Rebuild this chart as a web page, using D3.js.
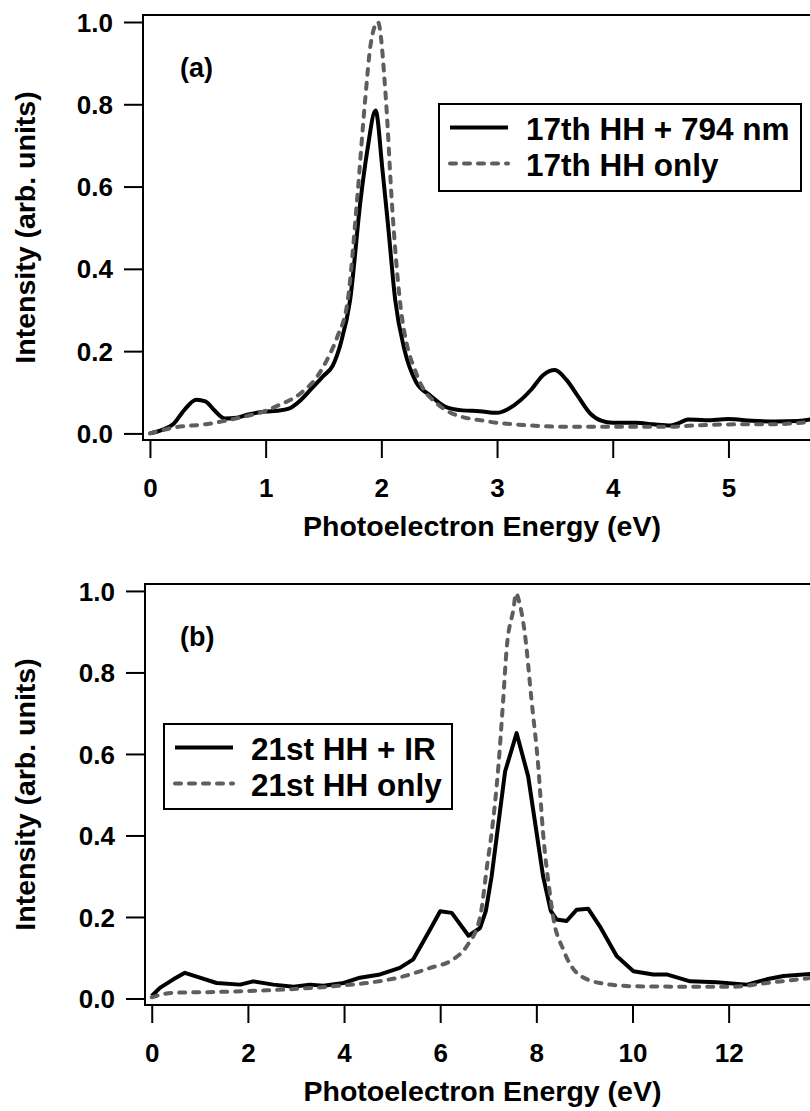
<!DOCTYPE html>
<html>
<head>
<meta charset="utf-8">
<script src="https://cdn.jsdelivr.net/npm/d3@7"></script>
<style>
  body { margin: 0; background: #fff; }
  svg { display: block; overflow: hidden; }
  text { font-family: "Liberation Sans", Arial, Helvetica, sans-serif; font-weight: bold; fill: #000; }
</style>
</head>
<body>
<svg id="chart"></svg>
<script>
// ---- data ----

// panel (a): 17th harmonic with and without the 794 nm dressing field
const a_ir_energy = [0.00, 0.10, 0.20, 0.30, 0.40, 0.48, 0.55, 0.65, 0.75, 0.85, 1.00, 1.10, 1.20, 1.30, 1.40, 1.50, 1.58, 1.65, 1.73, 1.82, 1.88, 1.95, 2.01, 2.06, 2.12, 2.20, 2.30, 2.42, 2.55, 2.70, 2.85, 3.00, 3.10, 3.20, 3.30, 3.40, 3.50, 3.60, 3.70, 3.80, 3.90, 4.00, 4.20, 4.35, 4.50, 4.58, 4.65, 4.80, 5.00, 5.20, 5.40, 5.60, 5.80];
const a_ir_intensity = [0.000, 0.008, 0.022, 0.058, 0.082, 0.078, 0.058, 0.036, 0.038, 0.046, 0.053, 0.055, 0.060, 0.080, 0.110, 0.140, 0.165, 0.220, 0.324, 0.566, 0.690, 0.785, 0.640, 0.500, 0.324, 0.203, 0.125, 0.093, 0.065, 0.056, 0.054, 0.050, 0.060, 0.080, 0.108, 0.142, 0.154, 0.130, 0.090, 0.050, 0.031, 0.026, 0.026, 0.022, 0.019, 0.026, 0.034, 0.032, 0.035, 0.031, 0.029, 0.030, 0.039];

const a_only_energy = [0.00, 0.20, 0.50, 0.80, 1.00, 1.10, 1.30, 1.45, 1.55, 1.62, 1.71, 1.79, 1.86, 1.91, 1.97, 2.04, 2.09, 2.16, 2.23, 2.28, 2.35, 2.48, 2.60, 2.90, 3.25, 3.60, 4.00, 4.45, 4.75, 5.05, 5.35, 5.80];
const a_only_intensity = [0.000, 0.014, 0.023, 0.040, 0.055, 0.067, 0.097, 0.140, 0.190, 0.235, 0.324, 0.566, 0.810, 0.950, 1.000, 0.810, 0.566, 0.324, 0.205, 0.162, 0.115, 0.073, 0.050, 0.030, 0.020, 0.016, 0.016, 0.016, 0.020, 0.022, 0.022, 0.031];

// panel (b): 21st harmonic with and without IR
const b_ir_energy = [0.00, 0.17, 0.45, 0.69, 1.00, 1.35, 1.84, 2.11, 2.53, 2.95, 3.29, 3.57, 3.99, 4.33, 4.75, 5.16, 5.44, 5.79, 6.00, 6.24, 6.59, 6.83, 6.95, 7.07, 7.35, 7.59, 7.83, 8.14, 8.30, 8.42, 8.63, 8.84, 9.08, 9.32, 9.67, 10.02, 10.43, 10.71, 11.20, 11.75, 12.38, 12.79, 13.14, 13.90];
const b_ir_intensity = [0.006, 0.026, 0.047, 0.063, 0.051, 0.038, 0.034, 0.042, 0.034, 0.029, 0.034, 0.031, 0.038, 0.051, 0.059, 0.075, 0.096, 0.169, 0.214, 0.210, 0.154, 0.173, 0.215, 0.300, 0.557, 0.651, 0.545, 0.300, 0.215, 0.194, 0.190, 0.218, 0.220, 0.177, 0.104, 0.067, 0.059, 0.059, 0.042, 0.040, 0.034, 0.047, 0.055, 0.062];

const b_only_energy = [0.00, 0.45, 1.35, 2.39, 3.08, 3.78, 4.47, 5.16, 5.79, 6.27, 6.55, 6.83, 6.98, 7.07, 7.21, 7.31, 7.38, 7.52, 7.58, 7.64, 7.76, 7.90, 8.04, 8.14, 8.28, 8.35, 8.56, 8.84, 9.32, 10.02, 11.06, 12.10, 12.79, 13.90];
const b_only_intensity = [0.003, 0.014, 0.016, 0.020, 0.024, 0.030, 0.038, 0.052, 0.075, 0.096, 0.128, 0.200, 0.330, 0.406, 0.569, 0.732, 0.855, 0.953, 0.994, 0.975, 0.896, 0.732, 0.569, 0.406, 0.259, 0.200, 0.120, 0.063, 0.038, 0.030, 0.029, 0.029, 0.038, 0.053];

const y_ticks = [0, 0.2, 0.4, 0.6, 0.8, 1.0];
const a_x_ticks = [0, 1, 2, 3, 4, 5];
const b_x_ticks = [0, 2, 4, 6, 8, 10, 12];

const a_legend = ["17th HH + 794 nm", "17th HH only"];
const b_legend = ["21st HH + IR", "21st HH only"];

const x_title = "Photoelectron Energy (eV)";
const y_title = "Intensity (arb. units)";

// ---- page setup ----
const w = 810;
const h = 1111;
const GREY = "#5e5e5e";

const $svg = d3.select('#chart')
  .attr('width', w)
  .attr('height', h);

// zips two arrays into {x, y} points
const pairs = (xs, ys) => xs.map((x, i) => ({ x: x, y: ys[i] }));

// draws one panel: frame, axes, the two traces, label and legend
const drawPanel = function(cfg, idx) {

  const x = d3.scaleLinear().domain(cfg.xDomain).range([cfg.left, cfg.right]);
  const y = d3.scaleLinear().domain([-0.016, 1.017]).range([cfg.bottom, cfg.top]);

  const g = $svg.append('g');

  // clip the traces to the plot area
  const clipId = 'clip' + idx;
  g.append('clipPath').attr('id', clipId)
    .append('rect')
    .attr('x', cfg.left).attr('y', cfg.top)
    .attr('width', cfg.right - cfg.left).attr('height', cfg.bottom - cfg.top);

  const lineFor = curve => d3.line()
    .x(d => x(d.x))
    .y(d => y(d.y))
    .curve(curve);

  const traces = g.append('g').attr('clip-path', `url(#${clipId})`);

  traces.append('path')
    .datum(pairs(cfg.irE, cfg.irI))
    .attr('d', lineFor(cfg.irCurve))
    .attr('fill', 'none')
    .attr('stroke', '#000')
    .attr('stroke-width', 4)
    .attr('stroke-linejoin', 'round');

  traces.append('path')
    .datum(pairs(cfg.onlyE, cfg.onlyI))
    .attr('d', lineFor(d3.curveMonotoneX))
    .attr('fill', 'none')
    .attr('stroke', GREY)
    .attr('stroke-width', 4)
    .attr('stroke-linecap', 'round')
    .attr('stroke-dasharray', '6,8');

  // x axis, ticks hang below the frame
  const xAxis = g.append('g')
    .attr('transform', `translate(0,${cfg.bottom})`)
    .call(d3.axisBottom(x).tickValues(cfg.xTicks).tickSize(18).tickFormat(d3.format('d')));
  xAxis.select('.domain').remove();
  xAxis.selectAll('.tick line').attr('stroke-width', 2);
  xAxis.selectAll('.tick text')
    .attr('y', 57).attr('dy', 0)
    .style('font-size', '26px');

  // y axis
  const yAxis = g.append('g')
    .attr('transform', `translate(${cfg.left},0)`)
    .call(d3.axisLeft(y).tickValues(y_ticks).tickSize(19).tickFormat(d3.format('.1f')));
  yAxis.select('.domain').remove();
  yAxis.selectAll('.tick line').attr('stroke-width', 2);
  yAxis.selectAll('.tick text')
    .attr('x', -30).attr('dy', '0.35em')
    .style('font-size', '26px');

  // frame (the right edge falls outside the picture)
  g.append('rect')
    .attr('x', cfg.left).attr('y', cfg.top)
    .attr('width', cfg.right - cfg.left).attr('height', cfg.bottom - cfg.top)
    .attr('fill', 'none')
    .attr('stroke', '#000')
    .attr('stroke-width', 2);

  // titles
  g.append('text')
    .attr('x', (cfg.left + cfg.right) / 2)
    .attr('y', cfg.bottom + 96)
    .attr('text-anchor', 'middle')
    .style('font-size', '28.5px')
    .text(x_title);

  g.append('text')
    .attr('transform', `translate(35,${(cfg.top + cfg.bottom) / 2}) rotate(-90)`)
    .attr('text-anchor', 'middle')
    .style('font-size', '28.5px')
    .text(y_title);

  g.append('text')
    .attr('x', 180)
    .attr('y', cfg.top + 62)
    .style('font-size', '27px')
    .text(cfg.label);

  // legend box
  const L = cfg.legend;
  const lg = g.append('g');
  lg.append('rect')
    .attr('x', L.x).attr('y', L.y)
    .attr('width', L.w).attr('height', L.h)
    .attr('fill', '#fff')
    .attr('stroke', '#000')
    .attr('stroke-width', 2);

  const rows = [
    { text: cfg.names[0], color: '#000', dash: null },
    { text: cfg.names[1], color: GREY, dash: '6,8' }
  ];
  rows.forEach(function(r, i) {
    const ry = L.y + 23.5 + i * 36;
    lg.append('line')
      .attr('x1', L.x + 11).attr('x2', L.x + 69)
      .attr('y1', ry).attr('y2', ry)
      .attr('stroke', r.color)
      .attr('stroke-width', 4)
      .attr('stroke-linecap', r.dash ? 'round' : 'butt')
      .attr('stroke-dasharray', r.dash);
    lg.append('text')
      .attr('x', L.x + 87)
      .attr('y', ry + 12)
      .style('font-size', '31.5px')
      .text(r.text);
  });
}

drawPanel({
  left: 143, right: 821, top: 15, bottom: 440,
  xDomain: [-0.06, 5.8], xTicks: a_x_ticks,
  irE: a_ir_energy, irI: a_ir_intensity, irCurve: d3.curveMonotoneX,
  onlyE: a_only_energy, onlyI: a_only_intensity,
  label: "(a)", names: a_legend,
  legend: { x: 439, y: 104, w: 362, h: 87 }
}, 0);

drawPanel({
  left: 145, right: 820, top: 584, bottom: 1005,
  xDomain: [-0.14, 13.9], xTicks: b_x_ticks,
  irE: b_ir_energy, irI: b_ir_intensity, irCurve: d3.curveLinear,
  onlyE: b_only_energy, onlyI: b_only_intensity,
  label: "(b)", names: b_legend,
  legend: { x: 164, y: 724, w: 288, h: 85 }
}, 1);
</script>
</body>
</html>
